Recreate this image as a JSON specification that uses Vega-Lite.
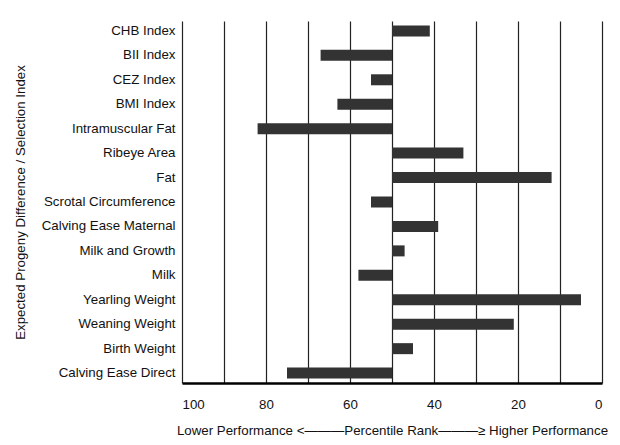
{
  "$schema": "https://vega.github.io/schema/vega-lite/v6.json",
  "autosize": "none",
  "width": 420,
  "height": 362,
  "padding": {"left": 182, "top": 21, "right": 18, "bottom": 62},
  "background": "white",
  "config": {
    "font": "Liberation Sans",
    "view": {"stroke": null}
  },
  "data": {
    "values": [
      {"trait": "CHB Index", "rank": 41},
      {"trait": "BII Index", "rank": 67},
      {"trait": "CEZ Index", "rank": 55},
      {"trait": "BMI Index", "rank": 63},
      {"trait": "Intramuscular Fat", "rank": 82},
      {"trait": "Ribeye Area", "rank": 33},
      {"trait": "Fat", "rank": 12},
      {"trait": "Scrotal Circumference", "rank": 55},
      {"trait": "Calving Ease Maternal", "rank": 39},
      {"trait": "Milk and Growth", "rank": 47},
      {"trait": "Milk", "rank": 58},
      {"trait": "Yearling Weight", "rank": 5},
      {"trait": "Weaning Weight", "rank": 21},
      {"trait": "Birth Weight", "rank": 45},
      {"trait": "Calving Ease Direct", "rank": 75}
    ]
  },
  "mark": {"type": "bar", "color": "#333333"},
  "encoding": {
    "y": {
      "field": "trait",
      "type": "nominal",
      "sort": null,
      "scale": {"paddingInner": 0.55, "paddingOuter": 0.18},
      "axis": {
        "title": "Expected Progeny Difference / Selection Index",
        "titleFontSize": 13.3,
        "titleFontWeight": "normal",
        "titleColor": "#111",
        "titlePadding": 14,
        "labelFontSize": 13.3,
        "labelColor": "#111",
        "labelPadding": 7,
        "ticks": false,
        "domain": false
      }
    },
    "x": {
      "field": "rank",
      "type": "quantitative",
      "scale": {"domain": [100, 0], "nice": false},
      "axis": {
        "title": "Lower Performance <———Percentile Rank———≥ Higher Performance",
        "titleFontSize": 13.3,
        "titleFontWeight": "normal",
        "titleColor": "#111",
        "titlePadding": 13,
        "values": [100, 90, 80, 70, 60, 50, 40, 30, 20, 10, 0],
        "labelExpr": "datum.value % 20 == 0 ? datum.label : ''",
        "labelFontSize": 13.3,
        "labelColor": "#111",
        "labelPadding": 14,
        "ticks": false,
        "grid": true,
        "gridColor": "#222222",
        "gridWidth": 1.2,
        "gridOpacity": 1,
        "domainColor": "#000000",
        "domainWidth": 2.5
      }
    },
    "x2": {"datum": 50}
  }
}
